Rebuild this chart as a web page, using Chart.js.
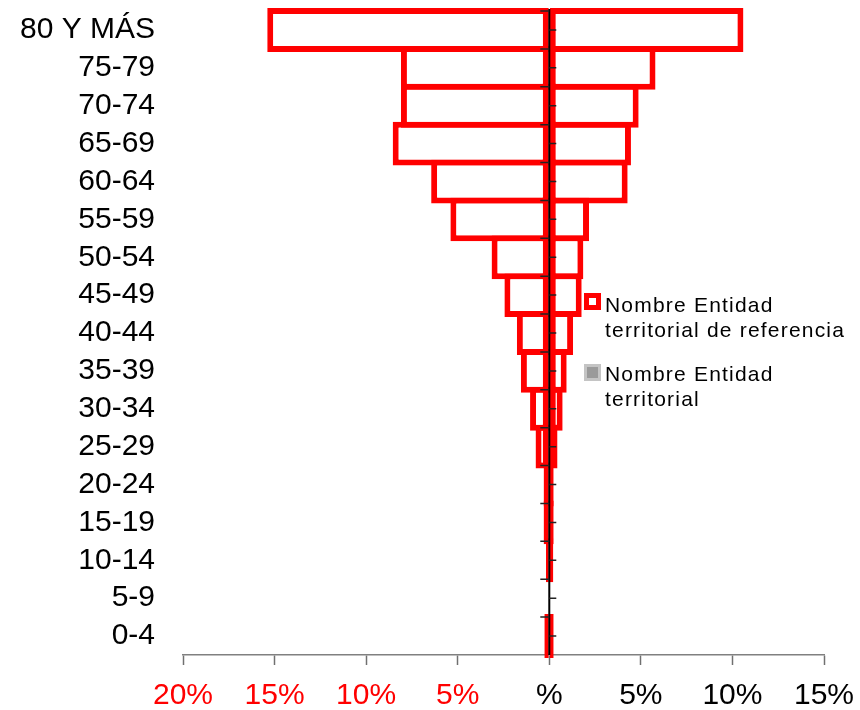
<!DOCTYPE html>
<html>
<head>
<meta charset="utf-8">
<script src="https://cdn.jsdelivr.net/npm/chart.js@4"></script>
<style>
  body { margin: 0; background: #fff; }
  #wrap { position: relative; width: 860px; height: 710px; }
  .leg { position: absolute; left: 605px; font: 21px 'Liberation Sans', Arial, sans-serif;
         line-height: 25px; letter-spacing: 1.2px; color: #000; }
  .box { position: absolute; left: 584px; width: 17px; height: 17px; box-sizing: border-box; }
</style>
</head>
<body>
<div id="wrap">
  <canvas id="pyr" width="860" height="710"></canvas>
  <div class="box" style="top:293px; border:5px solid #ff0000; background:#fff;"></div>
  <div class="leg" style="top:292px;">Nombre Entidad<br>territorial de referencia</div>
  <div class="box" style="top:364px; border:3px solid #c4c4c4; background:#9a9a9a;"></div>
  <div class="leg" style="top:361px;">Nombre Entidad<br>territorial</div>
</div>
<script>
// age groups, youngest first (the axis is reversed so 80+ sits on top)
var ageGroups = ["0-4", "5-9", "10-14", "15-19", "20-24", "25-29", "30-34", "35-39", "40-44",
  "45-49", "50-54", "55-59", "60-64", "65-69", "70-74", "75-79", "80 Y MÁS"];
// % of population, left side
var leftSide = [0.27, 0, 0.18, 0.31, 0.31, 0.75, 1.05, 1.55, 1.77, 2.45, 3.15, 5.4, 6.45, 8.55, 8.1, 8.1, 15.4];
// % of population, right side
var rightSide = [0.24, 0, 0.22, 0.24, 0.24, 0.45, 0.73, 0.95, 1.3, 1.77, 1.86, 2.17, 4.28, 4.46, 4.88, 5.8, 10.6];
var xTicks = [-20, -15, -10, -5, 0, 5, 10, 15];

var RED = '#ff0000';
var BORDER = 6;
Chart.defaults.font.family = "'Liberation Sans', Arial, sans-serif";

// black zero line with the small tick marks on both sides
var centerLine = {
  id: 'centerLine',
  afterDatasetsDraw: function(chart) {
    var ctx = chart.ctx, area = chart.chartArea;
    var x0 = chart.scales.x.getPixelForValue(0);
    var y = chart.scales.y;
    var band = (area.bottom - area.top) / ageGroups.length;
    ctx.save();
    ctx.strokeStyle = '#000';
    ctx.lineWidth = 2;
    ctx.beginPath();
    ctx.moveTo(x0, area.top - 2);
    ctx.lineTo(x0, area.bottom);
    ctx.stroke();
    ctx.lineWidth = 1.5;
    ctx.strokeStyle = '#222';
    for (var i = 0; i < ageGroups.length; i++) {
      var c = y.getPixelForValue(i);
      ctx.beginPath();
      ctx.moveTo(x0 - 9, c - band / 2);
      ctx.lineTo(x0, c - band / 2);
      ctx.moveTo(x0, c);
      ctx.lineTo(x0 + 7, c);
      ctx.stroke();
    }
    ctx.restore();
  }
};

// bars a little taller than their band so neighbouring borders overlap into one line
var barStyle = {
  backgroundColor: '#ffffff',
  borderColor: RED,
  borderWidth: BORDER,
  borderSkipped: false,
  inflateAmount: 0,
  barPercentage: 1 + BORDER / 37.9,
  categoryPercentage: 1,
  clip: false
};

new Chart(document.getElementById('pyr'), {
  type: 'bar',
  data: {
    labels: ageGroups,
    datasets: [
      Object.assign({ label: 'Nombre Entidad territorial de referencia',
        data: leftSide.map(function(v) { return -v; }) }, barStyle),
      Object.assign({ label: 'Nombre Entidad territorial de referencia',
        data: rightSide }, barStyle)
    ]
  },
  plugins: [centerLine],
  options: {
    indexAxis: 'y',
    responsive: false,
    animation: false,
    layout: { padding: { top: 11, right: 36, left: 0, bottom: 0 } },
    plugins: { legend: { display: false }, tooltip: { enabled: false } },
    scales: {
      x: {
        stacked: true,
        min: -20,
        max: 15,
        afterBuildTicks: function(scale) {
          scale.ticks = xTicks.map(function(v) { return { value: v }; });
        },
        afterFit: function(scale) {
          scale.height = 55;
          scale.paddingLeft = 0;
          scale.paddingRight = 0;
        },
        grid: { drawOnChartArea: false, drawTicks: true, tickLength: 10,
                tickColor: '#707070', tickWidth: 1.5 },
        border: { display: true, color: '#808080', width: 1.5 },
        ticks: {
          padding: 13,
          font: { size: 30 },
          color: function(c) { return c.tick.value < 0 ? RED : '#000'; },
          callback: function(v) { return v === 0 ? '%' : Math.abs(v) + '%'; }
        }
      },
      y: {
        stacked: true,
        reverse: true,
        afterFit: function(scale) {
          scale.width = 183;
          scale.paddingTop = 0;
          scale.paddingBottom = 0;
        },
        grid: { display: false, drawTicks: false },
        border: { display: false },
        ticks: { padding: 28, font: { size: 30 }, color: '#000', autoSkip: false }
      }
    }
  }
});
</script>
</body>
</html>
